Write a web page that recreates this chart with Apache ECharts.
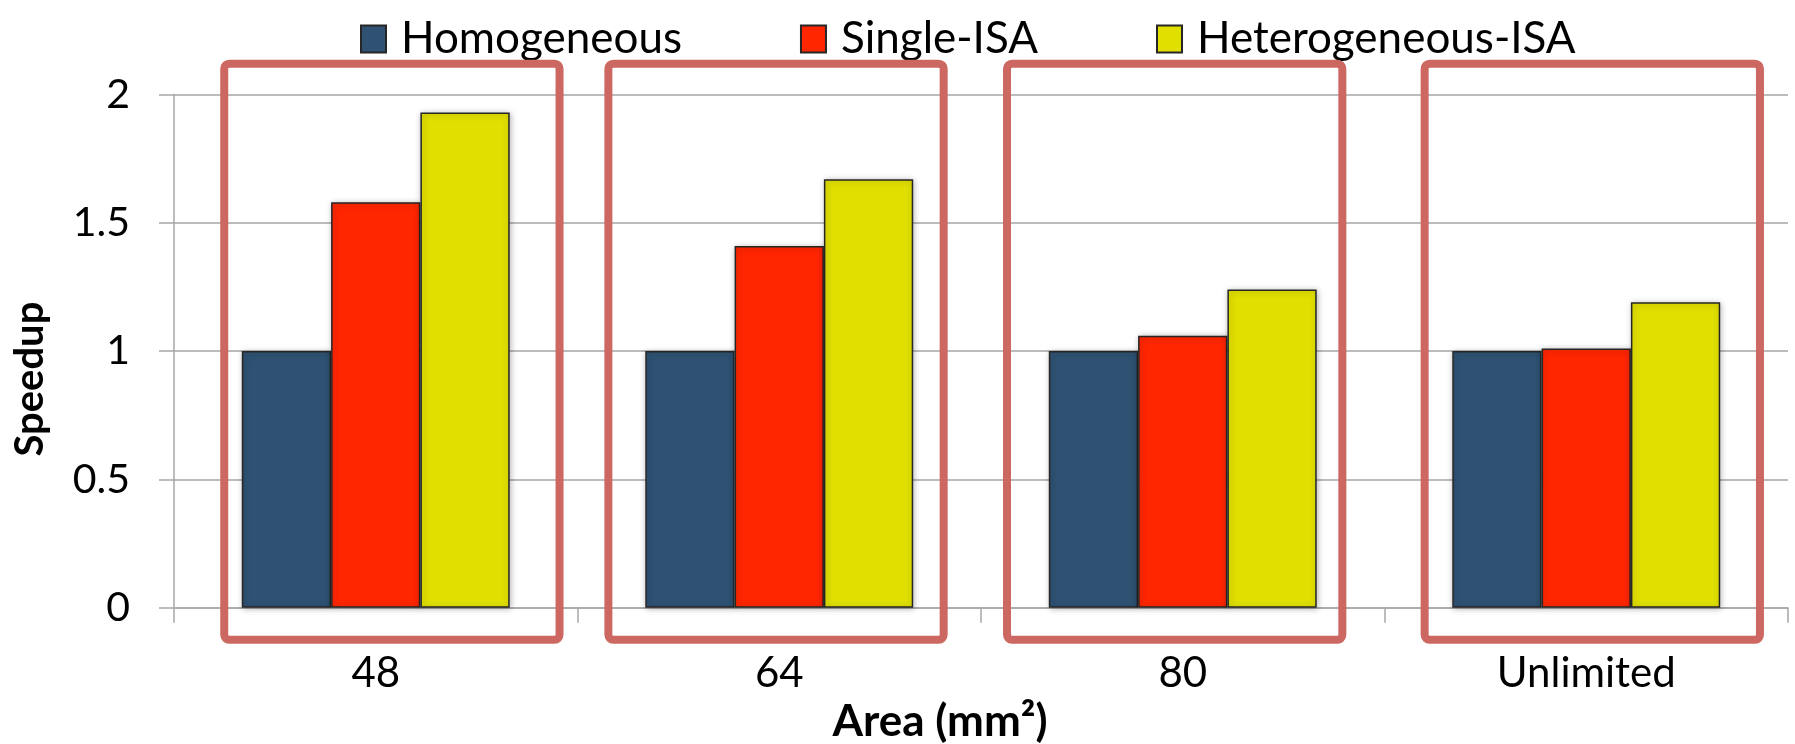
<!DOCTYPE html>
<html>
<head>
<meta charset="utf-8">
<title>Speedup by area</title>
<script src="https://cdn.jsdelivr.net/npm/echarts@6/dist/echarts.min.js"></script>
<style>
  html, body { margin: 0; padding: 0; background: #ffffff; }
  #chart { width: 1795px; height: 744px; }
</style>
</head>
<body>
<div id="chart"></div>
<script>
// Area budgets (mm²) on the x axis
const categories = ['48', '64', '80', 'Unlimited'];

// Speedup per design, normalised to the homogeneous design
const homogeneous = [1.00, 1.00, 1.00, 1.00];
const singleISA   = [1.58, 1.41, 1.06, 1.01];
const heteroISA   = [1.93, 1.67, 1.24, 1.19];

const seriesNames = ['Homogeneous', 'Single-ISA', 'Heterogeneous-ISA'];
const yTicks = { min: 0, max: 2, interval: 0.5 };

const FONT = 'Lato, "Open Sans", "DejaVu Sans", sans-serif';
const GRID_COLOR = '#a6a6a6';
const BOX_COLOR = '#cd6761';

// Highlight frames around each area group (category units / axis values)
const frames = [
  { cat: 0, shift: 0.040 },
  { cat: 1, shift: -0.008 },
  { cat: 2, shift: -0.020 },
  { cat: 3, shift: 0.015 }
];
const frameWidthCats = 0.831;
const frameTop = 2.12;
const frameBottom = -0.125;

const chart = echarts.init(document.getElementById('chart'), null, { renderer: 'canvas' });

function barSeries(name, data, color) {
  return {
    name: name,
    type: 'bar',
    data: data,
    barGap: '0%',
    barCategoryGap: '33.6%',
    itemStyle: {
      color: color,
      borderColor: '#262626',
      borderWidth: 1.5,
      shadowBlur: 6,
      shadowColor: 'rgba(0,0,0,0.28)',
      shadowOffsetX: 1,
      shadowOffsetY: 1
    },
    emphasis: { disabled: true }
  };
}

const axisLineStyle = { color: GRID_COLOR, width: 1.5 };

chart.setOption({
  animation: false,
  backgroundColor: '#ffffff',
  legend: {
    top: 12,
    left: 355,
    itemWidth: 25,
    itemHeight: 27,
    itemGap: 118,
    icon: 'rect',
    data: seriesNames,
    textStyle: {
      fontFamily: FONT,
      fontSize: 44,
      color: '#000000',
      padding: [0, 0, 0, 10]
    }
  },
  grid: {
    left: 174,
    right: 7,
    top: 94.5,
    bottom: 136.3,
    containLabel: false,
    outerBoundsMode: 'none'
  },
  xAxis: {
    type: 'category',
    data: categories,
    axisLine: { lineStyle: axisLineStyle },
    axisTick: { show: true, length: 15, lineStyle: axisLineStyle },
    axisLabel: {
      interval: 0,
      fontFamily: FONT,
      fontSize: 42,
      color: '#000000',
      margin: 45
    },
    name: 'Area (mm²)',
    nameLocation: 'middle',
    nameGap: 92,
    nameTextStyle: {
      fontFamily: FONT,
      fontWeight: 'bold',
      fontSize: 44,
      color: '#000000',
      padding: [0, 82, 0, 0]
    }
  },
  yAxis: {
    type: 'value',
    min: yTicks.min,
    max: yTicks.max,
    interval: yTicks.interval,
    axisLine: { show: true, lineStyle: axisLineStyle },
    axisTick: { show: true, length: 15, lineStyle: axisLineStyle },
    splitLine: { lineStyle: { color: GRID_COLOR, width: 1.5 } },
    axisLabel: {
      fontFamily: FONT,
      fontSize: 41,
      color: '#000000',
      margin: 44
    },
    name: 'Speedup',
    nameLocation: 'middle',
    nameGap: 124,
    nameTextStyle: {
      fontFamily: FONT,
      fontWeight: 'bold',
      fontSize: 40,
      color: '#000000',
      padding: [0, 56, 0, 0]
    }
  },
  series: [
    barSeries(seriesNames[0], homogeneous, '#2f5273'),
    barSeries(seriesNames[1], singleISA, '#ff2600'),
    barSeries(seriesNames[2], heteroISA, '#e0df00')
  ]
});

// Frames are placed through the axes so they follow the chart scales
function drawFrames() {
  const c0 = chart.convertToPixel({ gridIndex: 0 }, [0, 0]);
  const c1 = chart.convertToPixel({ gridIndex: 0 }, [1, 0]);
  const catW = c1[0] - c0[0];
  const yTop = chart.convertToPixel({ gridIndex: 0 }, [0, frameTop])[1];
  const yBot = chart.convertToPixel({ gridIndex: 0 }, [0, frameBottom])[1];
  const elements = frames.map(function (f) {
    const cx = chart.convertToPixel({ gridIndex: 0 }, [f.cat, 0])[0] + f.shift * catW;
    const w = frameWidthCats * catW;
    return {
      type: 'rect',
      z: 100,
      silent: true,
      shape: { x: cx - w / 2, y: yTop, width: w, height: yBot - yTop, r: 5 },
      style: { fill: 'none', stroke: BOX_COLOR, lineWidth: 8, lineJoin: 'round' }
    };
  });
  chart.setOption({ graphic: { elements: elements } });
}
drawFrames();
</script>
</body>
</html>
